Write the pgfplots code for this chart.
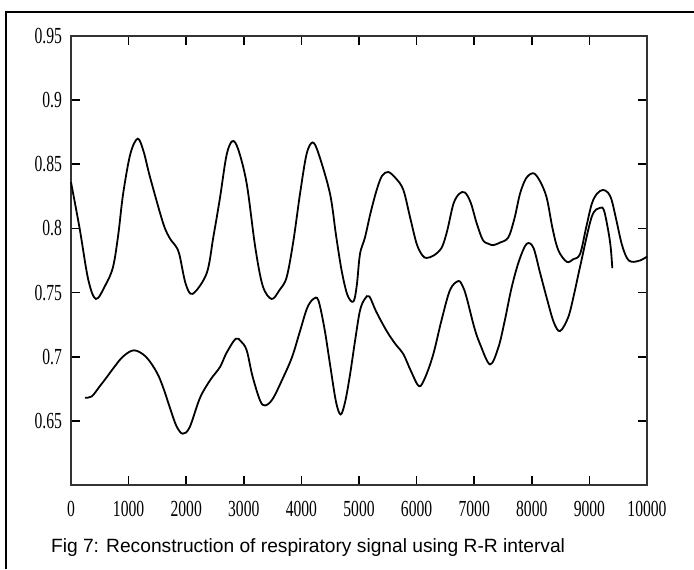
\documentclass[border=0pt]{standalone}
\usepackage{pgfplots}
\usepackage{pgfplotstable}
\pgfplotsset{compat=1.18}
\usepackage{fontspec}
\setmainfont{Liberation Sans}
\newfontfamily\tickfont[FakeStretch=0.68]{Liberation Serif}

\pgfplotstableread{
x y
0 0.836
150 0.800
300 0.760
434 0.745
600 0.756
730 0.770
820 0.795
905 0.827
1030 0.858
1158 0.870
1260 0.860
1372 0.840
1600 0.804
1720 0.792
1806 0.787
1880 0.780
1990 0.757
2112 0.749
2355 0.765
2470 0.793
2587 0.824
2700 0.857
2800 0.868
2900 0.862
3050 0.835
3200 0.785
3330 0.755
3484 0.745
3620 0.752
3744 0.762
3860 0.790
3976 0.827
4090 0.858
4196 0.867
4300 0.858
4497 0.827
4600 0.795
4699 0.767
4800 0.748
4902 0.743
4960 0.755
5017 0.780
5104 0.793
5200 0.812
5307 0.830
5400 0.841
5509 0.844
5640 0.839
5770 0.830
5890 0.808
6001 0.788
6100 0.779
6175 0.777
6300 0.779
6435 0.785
6530 0.798
6638 0.819
6740 0.827
6840 0.828
6940 0.820
7043 0.804
7150 0.791
7250 0.788
7332 0.787
7450 0.789
7592 0.793
7700 0.808
7795 0.827
7900 0.839
8027 0.843
8140 0.837
8258 0.824
8360 0.800
8460 0.783
8606 0.774
8720 0.776
8837 0.780
8940 0.800
9040 0.819
9130 0.827
9231 0.830
9320 0.828
9387 0.822
9470 0.806
9560 0.788
9650 0.777
9734 0.774
9878 0.775
10000 0.778
}\upperdata

\pgfplotstableread{
x y
243 0.668
359 0.669
500 0.677
620 0.684
735 0.691
900 0.700
1094 0.705
1300 0.700
1487 0.688
1600 0.676
1719 0.660
1830 0.646
1939 0.640
2060 0.645
2240 0.668
2420 0.682
2587 0.692
2700 0.703
2859 0.714
2950 0.712
3050 0.705
3150 0.685
3281 0.666
3368 0.662
3500 0.667
3686 0.684
3840 0.700
3976 0.720
4100 0.738
4207 0.745
4294 0.744
4400 0.722
4497 0.694
4600 0.665
4682 0.655
4760 0.665
4844 0.686
4930 0.712
5017 0.736
5100 0.745
5179 0.747
5300 0.735
5481 0.720
5630 0.710
5770 0.702
5900 0.689
6042 0.677
6150 0.684
6290 0.702
6430 0.728
6580 0.752
6724 0.759
6800 0.755
6869 0.746
7000 0.723
7100 0.710
7274 0.694
7418 0.707
7530 0.728
7650 0.754
7780 0.775
7911 0.788
8027 0.785
8140 0.766
8258 0.746
8380 0.727
8490 0.720
8634 0.731
8740 0.750
8837 0.770
9040 0.809
9184 0.816
9253 0.814
9328 0.798
9370 0.785
9398 0.769
}\lowerdata

\begin{document}
\begin{tikzpicture}
\useasboundingbox (0,0) rectangle (347pt,284.5pt);
% outer frame (left and top edges only)
\draw[line width=1.1pt] (3pt,0) -- (3pt,278.5pt) -- (347pt,278.5pt);
\begin{axis}[
    at={(35.5pt,42pt)}, anchor=south west,
    scale only axis,
    width=288pt, height=224.5pt,
    xmin=0, xmax=10000,
    ymin=0.6, ymax=0.95,
    scaled x ticks=false,
    xtick={0,1000,...,10000},
    xticklabels={0,1000,2000,3000,4000,5000,6000,7000,8000,9000,10000},
    ytick={0.65,0.7,0.75,0.8,0.85,0.9,0.95},
    yticklabels={0.65,0.7,0.75,0.8,0.85,0.9,0.95},
    tick align=inside,
    major tick length=4.5pt,
    axis line style={draw=black!80, line width=0.9pt},
    every tick/.style={draw=black, line width=0.8pt},
    ticklabel style={font=\tickfont\fontsize{11.5}{11.5}\selectfont},
    xticklabel style={yshift=-4.5pt},
    yticklabel style={xshift=-1pt},
    clip=false,
]
\addplot[black, line width=0.9pt, smooth, tension=0.55] table {\upperdata};
\addplot[black, line width=0.9pt, smooth, tension=0.55] table {\lowerdata};
\end{axis}
\node[anchor=west, font=\fontsize{9.6}{11}\selectfont] at (22pt,10.5pt)
  {Fig 7: Reconstruction of respiratory signal using R-R interval};
\end{tikzpicture}
\end{document}
